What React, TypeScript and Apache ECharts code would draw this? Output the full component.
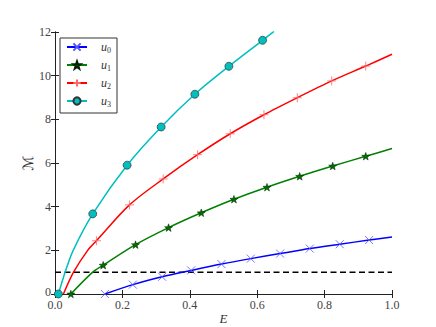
import React, { useEffect, useRef } from "react";
import * as echarts from "echarts";

// Energy values (x) and M values (y); mk = marker shown
const E_u0 = [0.148, 0.231, 0.318, 0.404, 0.494, 0.581, 0.668, 0.756, 0.845, 0.932, 1.0];
const M_u0 = [0.0, 0.43, 0.79, 1.08, 1.37, 1.62, 1.85, 2.08, 2.28, 2.47, 2.61];
const mk_u0 = [1, 1, 1, 1, 1, 1, 1, 1, 1, 1, 0];

const E_u1 = [0.047, 0.112, 0.143, 0.239, 0.337, 0.434, 0.531, 0.629, 0.726, 0.824, 0.922, 1.0];
const M_u1 = [0.0, 1.0, 1.32, 2.26, 3.04, 3.72, 4.34, 4.89, 5.39, 5.86, 6.31, 6.66];
const mk_u1 = [1, 0, 1, 1, 1, 1, 1, 1, 1, 1, 1, 0];

const E_u2 = [0.025, 0.055, 0.097, 0.123, 0.221, 0.321, 0.423, 0.52, 0.62, 0.719, 0.821, 0.922, 1.0];
const M_u2 = [0.0, 1.0, 2.0, 2.44, 4.08, 5.27, 6.38, 7.34, 8.21, 8.99, 9.76, 10.44, 10.98];
const mk_u2 = [0, 0, 0, 1, 1, 1, 1, 1, 1, 1, 1, 1, 0];

const E_u3 = [0.01, 0.03, 0.054, 0.112, 0.214, 0.315, 0.415, 0.516, 0.616, 0.65];
const M_u3 = [0.0, 1.0, 2.0, 3.67, 5.9, 7.65, 9.15, 10.43, 11.62, 12.03];
const mk_u3 = [1, 0, 0, 1, 1, 1, 1, 1, 1, 0];

const thresholdE = [0, 1];
const thresholdM = [1, 1];

const seriesNames = ["u0", "u1", "u2", "u3"];
const xMin = 0, xMax = 1, xStep = 0.2;
const yMin = 0, yMax = 12, yStep = 2;

const X_PATH = "path://M0,0L10,10M10,0L0,10";
const PLUS_PATH = "path://M5,0L5,10M0,5L10,5";
const STAR_PATH =
  "path://M5,0L6.18,3.38L9.76,3.45L6.9,5.62L7.94,9.05L5,7L2.06,9.05L3.1,5.62L0.24,3.45L3.82,3.38Z";

function build(E: number[], M: number[], mk: number[]) {
  return E.map((e, i) => (mk[i] ? { value: [e, M[i]] } : { value: [e, M[i]], symbol: "none" }));
}

export default function App() {
  const ref = useRef<HTMLDivElement>(null);
  useEffect(() => {
    if (!ref.current) return;
    const chart = echarts.init(ref.current, null, { renderer: "svg" });
    const serif = "Liberation Serif, DejaVu Serif, serif";
    const axisLine = { show: true, lineStyle: { color: "#222", width: 1 } };
    const tick = { show: true, inside: true, length: 4, lineStyle: { color: "#222", width: 1 } };
    const lineCommon = {
      type: "line" as const,
      smooth: 0.3,
      showSymbol: true,
      clip: true,
      z: 3,
    };
    chart.setOption({
      animation: false,
      backgroundColor: "#fff",
      grid: { left: 55, right: 44, top: 32, bottom: 33, containLabel: false, outerBoundsMode: "none" },
      legend: {
        data: seriesNames,
        orient: "vertical",
        left: 60,
        top: 38,
        padding: [3, 6, 5, 6],
        itemWidth: 20,
        itemHeight: 9,
        itemGap: 5,
        backgroundColor: "#fff",
        borderColor: "#333",
        borderWidth: 1,
        borderRadius: 0,
        formatter: (name: string) => `{u|u}{s|${name.slice(1)}}`,
        textStyle: {
          padding: [0, 0, 0, 9],
          rich: {
            u: { fontFamily: serif, fontStyle: "italic", fontSize: 12, color: "#333", lineHeight: 14 },
            s: { fontFamily: serif, fontSize: 8, color: "#333", verticalAlign: "bottom", lineHeight: 11 },
          },
        },
      },
      xAxis: [
        {
          type: "value",
          min: xMin,
          max: xMax,
          interval: xStep,
          name: "E",
          nameLocation: "middle",
          nameGap: 17,
          nameMoveOverlap: false,
          nameTextStyle: { fontFamily: serif, fontStyle: "italic", fontSize: 13, color: "#333", lineHeight: 14 },
          axisLine,
          axisTick: tick,
          splitLine: { show: false },
          axisLabel: {
            color: "#444",
            fontFamily: serif,
            fontSize: 12,
            lineHeight: 12,
            margin: 5,
            formatter: (v: number) => v.toFixed(1),
          },
        },
        {
          type: "value",
          position: "top",
          min: xMin,
          max: xMax,
          interval: xStep,
          axisLine,
          axisTick: tick,
          splitLine: { show: false },
          axisLabel: { show: false },
        },
      ],
      yAxis: [
        {
          type: "value",
          min: yMin,
          max: yMax,
          interval: yStep,
          name: "ℳ",
          nameLocation: "middle",
          nameRotate: 90,
          nameGap: 20,
          nameMoveOverlap: false,
          nameTextStyle: { fontFamily: "DejaVu Serif, DejaVu Sans", fontSize: 14, color: "#333" },
          axisLine,
          axisTick: tick,
          splitLine: { show: false },
          axisLabel: {
            color: "#444",
            fontFamily: serif,
            fontSize: 12,
            lineHeight: 10,
            margin: 4,
            formatter: (v: number) => (v === 0 ? "{z|0}" : `${v}`),
            rich: { z: { fontFamily: serif, fontSize: 12, color: "#444", lineHeight: 10, padding: [0, 0, 4, 0] } },
          },
        },
        {
          type: "value",
          position: "right",
          min: yMin,
          max: yMax,
          interval: yStep,
          axisLine,
          axisTick: tick,
          splitLine: { show: false },
          axisLabel: { show: false },
        },
      ],
      series: [
        {
          type: "line",
          name: "threshold",
          data: thresholdE.map((e, i) => [e, thresholdM[i]]),
          symbol: "none",
          lineStyle: { color: "#000", width: 1.5, type: [6, 3.5] },
          z: 2,
        },
        {
          ...lineCommon,
          name: "u0",
          data: build(E_u0, M_u0, mk_u0),
          symbol: X_PATH,
          symbolSize: 8,
          lineStyle: { color: "#0000ff", width: 1.5 },
          itemStyle: { color: "#0000ff", borderColor: "#5555ff", borderWidth: 0.8 },
        },
        {
          ...lineCommon,
          name: "u1",
          data: build(E_u1, M_u1, mk_u1),
          symbol: STAR_PATH,
          symbolSize: 8,
          symbolKeepAspect: true,
          lineStyle: { color: "#008000", width: 1.5 },
          itemStyle: { color: "#007000", borderColor: "#002200", borderWidth: 0.5 },
        },
        {
          ...lineCommon,
          name: "u2",
          data: build(E_u2, M_u2, mk_u2),
          symbol: PLUS_PATH,
          symbolSize: 9,
          lineStyle: { color: "#ff0000", width: 1.5 },
          itemStyle: { color: "#ff0000", borderColor: "#ff6666", borderWidth: 0.8 },
        },
        {
          ...lineCommon,
          name: "u3",
          data: build(E_u3, M_u3, mk_u3),
          symbol: "circle",
          symbolSize: 8,
          lineStyle: { color: "#00bfbf", width: 1.5 },
          itemStyle: { color: "#00bfbf", borderColor: "#333", borderWidth: 0.7 },
        },
      ],
    });
    return () => chart.dispose();
  }, []);
  return (
    <div
      ref={ref}
      style={{ position: "fixed", left: 0, top: 0, width: 436, height: 327 }}
    />
  );
}
